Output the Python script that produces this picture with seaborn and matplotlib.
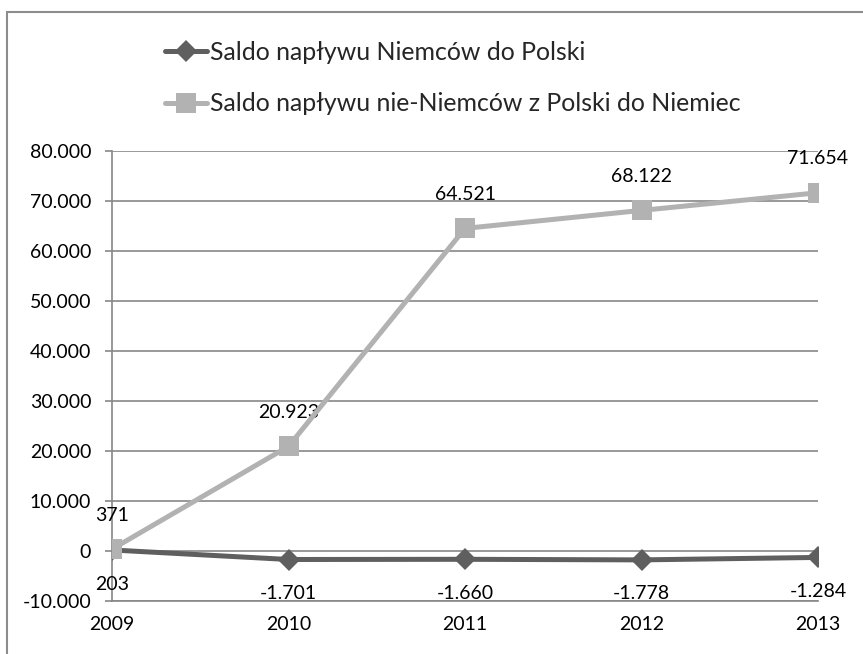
import matplotlib
matplotlib.use("Agg")
import matplotlib.pyplot as plt
from matplotlib.lines import Line2D
from matplotlib.patches import Rectangle
import seaborn as sns
import pandas as pd

years = [2009, 2010, 2011, 2012, 2013]
germans_to_poland = [203, -1701, -1660, -1778, -1284]
non_germans_to_germany = [371, 20923, 64521, 68122, 71654]
series_names = ["Saldo napływu Niemców do Polski",
                "Saldo napływu nie-Niemców z Polski do Niemiec"]
y_ticks = [-10000, 0, 10000, 20000, 30000, 40000, 50000, 60000, 70000, 80000]

sns.set_theme(style="white")
plt.rcParams["font.family"] = ["Lato", "DejaVu Sans"]

DARK = "#5f5f5f"
LIGHT = "#b2b2b2"
GRID = "#878787"
FS = 14


def fmt(v):
    return f"{v:,}".replace(",", ".")


fig = plt.figure(figsize=(8.63, 6.54), dpi=100)
W, H = 863, 654
ax = fig.add_axes([112 / W, 1 - 601 / H, (818 - 112) / W, (601 - 151) / H])

# outer chart frame
fig.patches.append(Rectangle((7 / W, -0.05), 1.2, 1 - 12 / H + 0.05,
                             transform=fig.transFigure, fill=False,
                             edgecolor="#8c8c8c", linewidth=1.5))

df = pd.DataFrame({
    "year": years * 2,
    "value": germans_to_poland + non_germans_to_germany,
    "series": [series_names[0]] * 5 + [series_names[1]] * 5,
})

sns.lineplot(data=df[df.series == series_names[0]], x="year", y="value",
             ax=ax, color=DARK, linewidth=3.6, marker="D", markersize=11,
             markeredgewidth=0, legend=False, zorder=3)
sns.lineplot(data=df[df.series == series_names[1]], x="year", y="value",
             ax=ax, color=LIGHT, linewidth=3.6, marker="s", markersize=14,
             markeredgewidth=0, legend=False, zorder=4)

# value labels
for x, v in zip(years, non_germans_to_germany):
    ax.annotate(fmt(v), (x, v), xytext=(0, 24.5), textcoords="offset points",
                ha="center", va="center", fontsize=FS, color="black",
                annotation_clip=False)
for x, v in zip(years, germans_to_poland):
    ax.annotate(fmt(v), (x, v), xytext=(0, -24.5), textcoords="offset points",
                ha="center", va="center", fontsize=FS, color="black",
                annotation_clip=False)

ax.set_xlim(2009, 2013)
ax.set_ylim(-10000, 80000)
ax.set_yticks(y_ticks)
ax.set_yticklabels([fmt(t) for t in y_ticks])
ax.set_xticks(years)
ax.set_xticklabels([str(y) for y in years])
ax.set_xlabel("")
ax.set_ylabel("")

ax.yaxis.grid(True, color=GRID, linewidth=1.2)
ax.xaxis.grid(False)
ax.set_axisbelow(True)
for side in ["top", "right"]:
    ax.spines[side].set_visible(False)
for side in ["left", "bottom"]:
    ax.spines[side].set_color(GRID)
    ax.spines[side].set_linewidth(1.2)

ax.tick_params(axis="y", left=True, length=5, width=1.2, color=GRID,
               pad=10, labelsize=FS, labelcolor="black")
ax.tick_params(axis="x", bottom=False, length=0, pad=11, labelsize=FS,
               labelcolor="black")

handles = [
    Line2D([], [], color=DARK, linewidth=3.6, marker="D", markersize=11,
           markeredgewidth=0),
    Line2D([], [], color=LIGHT, linewidth=3.6, marker="s", markersize=14,
           markeredgewidth=0),
]
fig.legend(handles, series_names, loc="upper left",
           bbox_to_anchor=(165 / W, 1 - 41 / H), frameon=False,
           fontsize=17.9, handlelength=1.7, handletextpad=0.12,
           labelspacing=1.14, borderpad=0, borderaxespad=0)

fig.savefig("out.png", dpi=100)
